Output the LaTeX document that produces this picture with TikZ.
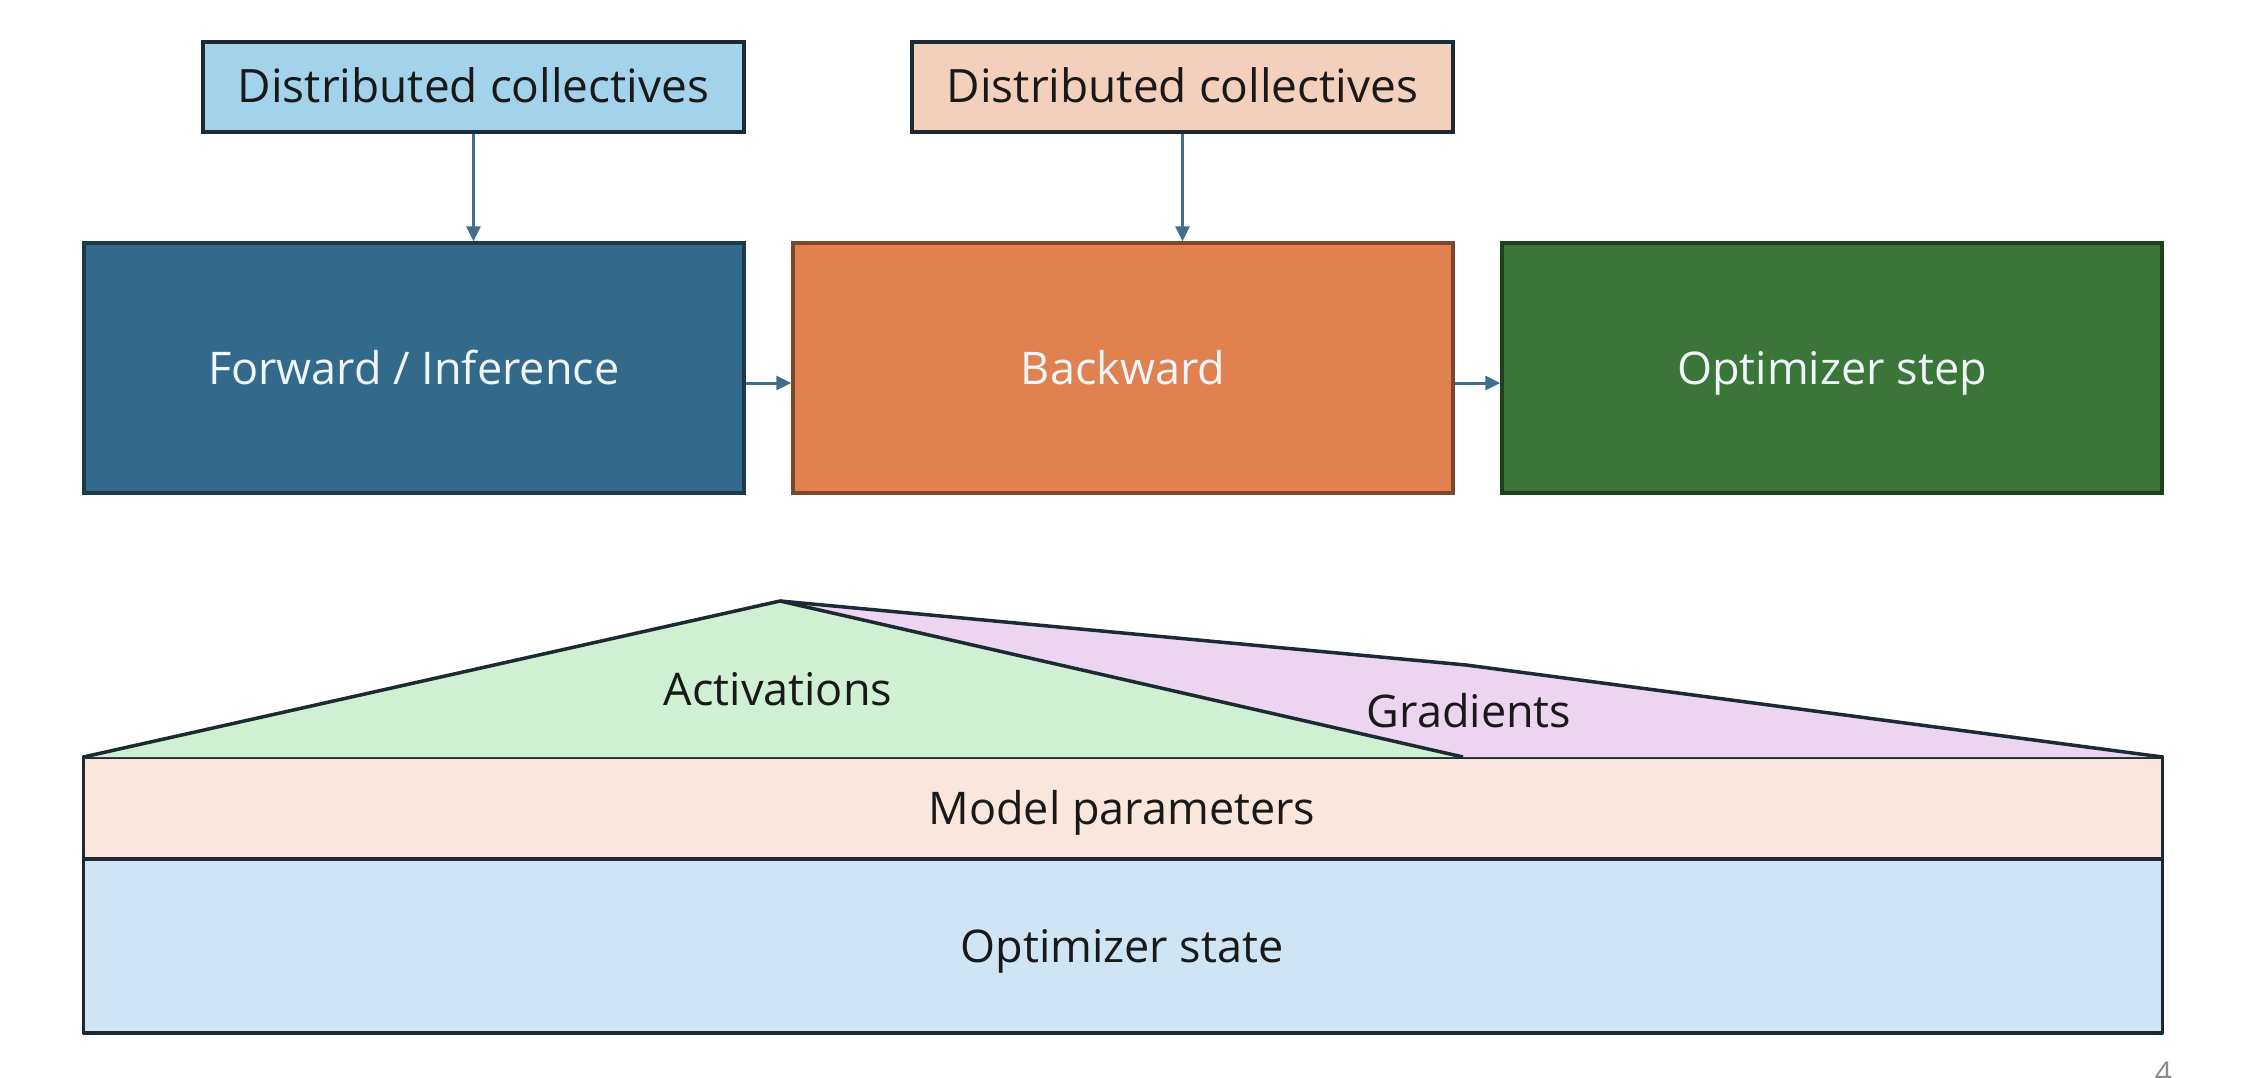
\documentclass[tikz,border=0pt]{standalone}
\usepackage{fontspec}
\setmainfont{Open Sans}
\usetikzlibrary{arrows.meta}
\definecolor{dcA}{HTML}{A3D3EA}
\definecolor{dcB}{HTML}{F3D0BC}
\definecolor{fwdC}{HTML}{336A8B}
\definecolor{bwdC}{HTML}{E1814F}
\definecolor{optC}{HTML}{3A7637}
\definecolor{actC}{HTML}{CFF0D2}
\definecolor{gradC}{HTML}{ECD6EF}
\definecolor{parC}{HTML}{F9E6DD}
\definecolor{stC}{HTML}{CFE5F3}
\definecolor{arrC}{HTML}{3F6E8F}
\definecolor{edgeC}{HTML}{1B2A33}
\definecolor{lightT}{HTML}{EEF6FA}
\tikzset{
  txt/.style={font=\fontsize{45}{54}\selectfont, text height=32pt, text depth=0pt, inner sep=0pt},
  dcbox/.style={txt, font=\fontsize{46}{54}\selectfont, draw=edgeC, line width=3.5pt, minimum width=541pt, minimum height=90pt, text=black!90},
  stagebox/.style={txt, line width=3.5pt, minimum width=660pt, minimum height=250pt, text=lightT},
  flow/.style={draw=arrC, line width=3pt, -{Triangle[length=15pt,width=14pt]}},
  layer/.style={draw=edgeC, line width=3.5pt, line join=round},
  lbl/.style={txt, text=black!90}
}
\begin{document}
\begin{tikzpicture}[x=1pt,y=-1pt]
\useasboundingbox (0,0) rectangle (2256,1078);
\fill[white] (0,0) rectangle (2256,1078);
% top boxes
\node[dcbox, fill=dcA] (dc1) at (473.5,87) {Distributed collectives};
\node[dcbox, fill=dcB] (dc2) at (1182.5,87) {Distributed collectives};
\node[stagebox, fill=fwdC, draw=fwdC!55!black] (fwd) at (413.75,368) {Forward / Inference};
\node[stagebox, fill=bwdC, draw=bwdC!55!black] (bwd) at (1123,368) {Backward};
\node[stagebox, fill=optC, draw=optC!55!black] (opt) at (1832,368) {Optimizer step};
\draw[flow] (dc1.south) -- (dc1.south |- fwd.north);
\draw[flow] (dc2.south) -- (dc2.south |- bwd.north);
\draw[flow] ([yshift=-15pt]fwd.east) -- ([yshift=-15pt]bwd.west);
\draw[flow] ([yshift=-15pt]bwd.east) -- ([yshift=-15pt]opt.west);
% memory layers
\coordinate (L) at (83.5,757);
\coordinate (R) at (2162.5,757);
\coordinate (apex) at (780,601);
\coordinate (actR) at (1463,757);
\coordinate (kink) at (1466,665);
\fill[stC] (83.5,859) rectangle (2162.5,1033);
\fill[parC] (83.5,757) rectangle (2162.5,859);
\draw[layer] (83.5,757) rectangle (2162.5,1033);
\draw[layer] (83.5,859) -- (2162.5,859);
\fill[gradC] (apex) -- (kink) -- (R) -- (actR) -- cycle;
\fill[actC] (L) -- (apex) -- (actR) -- cycle;
\draw[layer] (apex) -- (kink) -- (R);
\draw[layer] (L) -- (apex) -- (actR);
\node[lbl] (act) at (778,689) {Activations};
\node[lbl] (grad) at (1469,711.5) {Gradients};
\node[lbl] (par) at (1122,808) {Model parameters};
\node[lbl] (st) at (1122,946) {Optimizer state};
\node[font=\fontsize{30}{36}\selectfont, text=black!45, anchor=base, inner sep=0pt] (pg) at (2163.5,1083) {4};
\end{tikzpicture}
\end{document}
